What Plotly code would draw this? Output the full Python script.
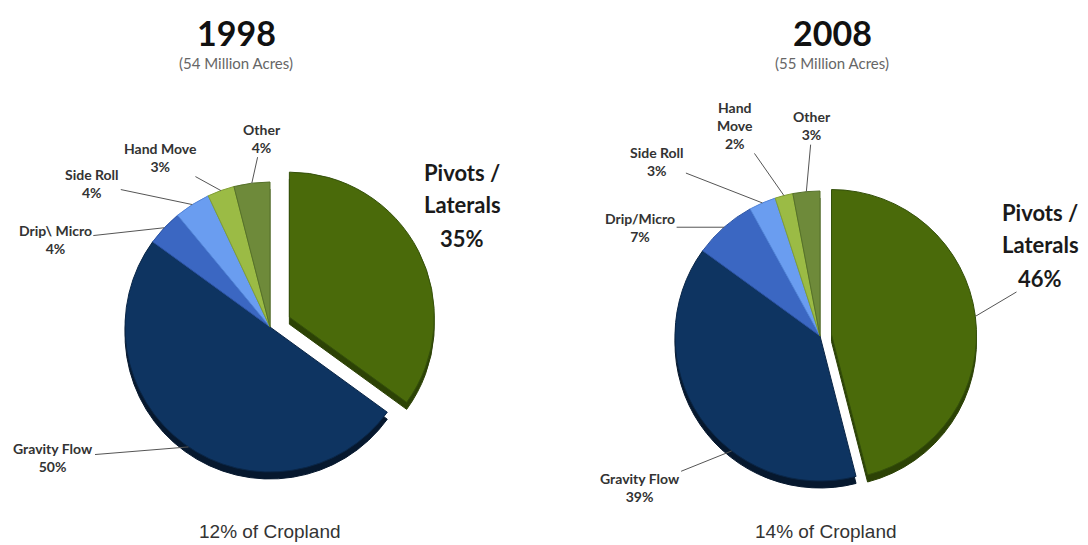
import math

import plotly.graph_objects as go

W, H = 1088, 545
PAGE = 8  # default body margin of the html page, in pixels

years = ["1998", "2008"]
acres = ["(54 Million Acres)", "(55 Million Acres)"]
cropland = ["12% of Cropland", "14% of Cropland"]

systems = ["Pivots / Laterals", "Gravity Flow", "Drip/Micro", "Side Roll", "Hand Move", "Other"]
labels_1998 = [["Pivots /", "Laterals"], "Gravity Flow", "Drip\\ Micro", "Side Roll", "Hand Move", "Other"]
labels_2008 = [["Pivots /", "Laterals"], "Gravity Flow", "Drip/Micro", "Side Roll", "Hand<br>Move", "Other"]
shares_1998 = [35, 50, 4, 4, 3, 4]
shares_2008 = [46, 39, 7, 3, 2, 3]

colors = ["#4a6a0a", "#0e3461", "#3b67c2", "#6a9df0", "#9bbb45", "#6e8a3a"]
edges = ["#34500a", "#0a2647", "#2c54a3", "#5284d8", "#819f35", "#56712b"]
rims = ["#2c4205", "#06182e", "#23447f", "#3e6ab0", "#667e28", "#435a20"]

# layout of each pie (screen pixels): center, radius, pull of the first slice
pies = [
    dict(cx=270, cy=327, r=145, pull=0.15, title_x=236, crop_x=270,
         labels=labels_1998, shares=shares_1998,
         # text offset from slice tip, and where along the slice the leader touches
         offsets=[None, (-135, 11), (-109, 12), (-100, -21), (-60, -33), (10, -45)],
         frac=[0.5, 0.49, 0.5, 0.5, 0.5, 0.5],
         pivot_text=(462, 172), pivot_line=False),
    dict(cx=820, cy=336, r=145, pull=0.08, title_x=832, crop_x=826,
         labels=labels_2008, shares=shares_2008,
         offsets=[None, (-92, 37), (-84, 0), (-105, -41), (-49, -70), (6, -66)],
         frac=[0.5, 0.37, 0.5, 0.5, 0.5, 0.5],
         pivot_text=(1040, 212), pivot_line=True),
]

fig = go.Figure()
annotations = []


def px(x, y):
    return (x - PAGE) / W, 1 - (y - PAGE) / H


def label(x, y, text, size, color="#333", family="Lato"):
    x, y = px(x, y)
    return dict(x=x, y=y, xref="paper", yref="paper", text=text, showarrow=False,
                xanchor="center", yanchor="middle",
                font=dict(family=family, size=size, color=color))


for i, p in enumerate(pies):
    half = p["r"] * (1 + p["pull"])
    # darker copy slightly lower, for the rim of the tilted pie
    for depth, cols, lines in [(7, rims, rims), (0, colors, edges)]:
        x0, y1 = px(p["cx"] - half, p["cy"] - half + depth)
        x1, y0 = px(p["cx"] + half, p["cy"] + half + depth)
        fig.add_trace(go.Pie(
            labels=systems,
            values=p["shares"],
            sort=False,
            direction="clockwise",
            rotation=0,
            pull=[p["pull"], 0, 0, 0, 0, 0],
            marker=dict(colors=cols, line=dict(color=lines, width=1)),
            textinfo="none",
            hoverinfo="skip" if depth else "label+percent",
            showlegend=False,
            domain=dict(x=[x0, x1], y=[y0, y1]),
        ))

    total = sum(p["shares"])
    start = 0.0
    for j, (lab, val) in enumerate(zip(p["labels"], p["shares"])):
        span = val / total * 360
        ang = math.radians(start + span * p["frac"][j])
        start += span
        tx = p["cx"] + p["r"] * math.sin(ang)
        ty = p["cy"] - p["r"] * math.cos(ang)
        if j == 0:
            # pulled slice: tip sits on the moved arc
            tx += p["pull"] * p["r"] * math.sin(ang)
            ty -= p["pull"] * p["r"] * math.cos(ang)
            lx, ly = p["pivot_text"]
            lines = lab + [f"{val}%"]
            for k, line in enumerate(lines):
                a = label(lx, ly + 33 * k, f"<b>{line}</b>", 22, "#1a1a1a")
                if k == len(lines) - 1 and p["pivot_line"]:
                    x, y = px(tx, ty)
                    a.update(x=x, y=y, showarrow=True, arrowhead=0, arrowwidth=1,
                             arrowcolor="#555", ax=lx - tx, ay=ly + 33 * k - ty)
                annotations.append(a)
            continue
        dx, dy = p["offsets"][j]
        x, y = px(tx, ty)
        annotations.append(dict(x=x, y=y, xref="paper", yref="paper",
                                text=f"<b>{lab}<br>{val}%</b>",
                                showarrow=True, arrowhead=0, arrowwidth=1, arrowcolor="#555",
                                ax=dx, ay=dy, xanchor="center", yanchor="middle",
                                font=dict(family="Lato", size=14, color="#333"),
                                align="center"))

    annotations.append(label(p["title_x"], 32, f"<b>{years[i]}</b>", 34, "#111"))
    annotations.append(label(p["title_x"], 63, acres[i], 15, "#666"))
    annotations.append(label(p["crop_x"], 531, cropland[i], 19, "#333", "Liberation Sans"))

fig.update_layout(
    width=W, height=H,
    margin=dict(l=0, r=0, t=0, b=0),
    paper_bgcolor="white",
    plot_bgcolor="white",
    annotations=annotations,
)

fig.write_html("out.html")
